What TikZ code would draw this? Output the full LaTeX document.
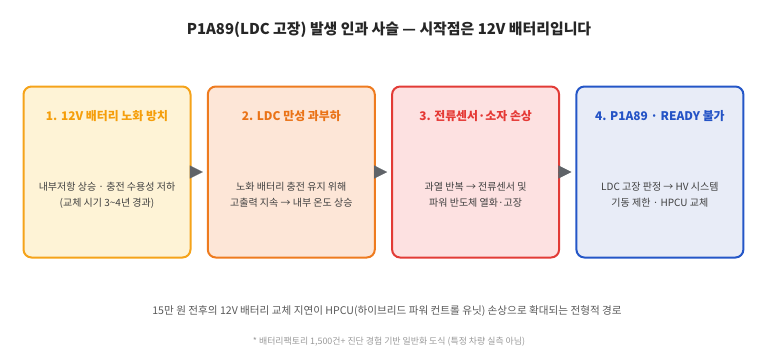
\documentclass[tikz,border=0pt]{standalone}
\usepackage{fontspec}
\setmainfont{Noto Sans CJK KR}
\usepackage{xcolor}
\usetikzlibrary{arrows.meta,positioning}
\definecolor{ambfill}{HTML}{FEF3D6}
\definecolor{ambline}{HTML}{F5A31A}
\definecolor{ambtext}{HTML}{F59E0B}
\definecolor{orgfill}{HTML}{FDE6D7}
\definecolor{orgline}{HTML}{EE7B1F}
\definecolor{orgtext}{HTML}{EA7317}
\definecolor{redfill}{HTML}{FDE1E1}
\definecolor{redline}{HTML}{E23B36}
\definecolor{redtext}{HTML}{E53935}
\definecolor{blufill}{HTML}{E8ECF7}
\definecolor{bluline}{HTML}{2456C7}
\definecolor{blutext}{HTML}{2453C6}
\definecolor{bodygray}{HTML}{404040}
\definecolor{arrgray}{HTML}{5F6368}

\begin{document}
\begin{tikzpicture}[x=1pt,y=1pt,node distance=15.3pt,
          box/.style={draw,line width=2pt,rounded corners=8pt,
                      minimum width=167pt,minimum height=171pt},
          ttl/.style={font=\fontsize{11.9}{14}\selectfont\bfseries},
          txt/.style={align=center,text=bodygray,
                      font=\fontsize{10}{16}\selectfont},
          flow/.style={arrgray,line width=0.1pt,shorten >=4pt,
                       -{Triangle[length=13pt,width=13pt]}}]
        \useasboundingbox (0,0) rectangle (773,-354);
        \node[font=\fontsize{14.9}{18}\selectfont\bfseries,text=black!85]
          (title) at (389,-30) {P1A89(LDC 고장) 발생 인과 사슬 — 시작점은 12V 배터리입니다};
        % four stages
        \node[box,draw=ambline,fill=ambfill] (a) at (107,-172) {};
        \node[box,draw=orgline,fill=orgfill,right=of a] (b) {};
        \node[box,draw=redline,fill=redfill,right=of b] (c) {};
        \node[box,draw=bluline,fill=blufill,right=of c] (d) {};
        \node[ttl,text=ambtext,below=21pt of a.north] (ta) {1. 12V 배터리 노화 방치};
        \node[ttl,text=orgtext,below=21pt of b.north] (tb) {2. LDC 만성 과부하};
        \node[ttl,text=redtext,below=21pt of c.north] (tc) {3. 전류센서·소자 손상};
        \node[ttl,text=blutext,below=21pt of d.north] (td) {4. P1A89 · READY 불가};
        \node[txt] (xa) at ([yshift=-23pt]a.center)
          {내부저항 상승 · 충전 수용성 저하\\(교체 시기 3\textasciitilde4년 경과)};
        \node[txt] (xb) at ([yshift=-23pt]b.center)
          {노화 배터리 충전 유지 위해\\고출력 지속 → 내부 온도 상승};
        \node[txt] (xc) at ([yshift=-23pt]c.center)
          {과열 반복 → 전류센서 및\\파워 반도체 열화·고장};
        \node[txt] (xd) at ([yshift=-23pt]d.center)
          {LDC 고장 판정 → HV 시스템\\기동 제한 · HPCU 교체};
        \draw[flow] (a.east)--(b.west);
        \draw[flow] (b.east)--(c.west);
        \draw[flow] (c.east)--(d.west);
        % notes
        \node[font=\fontsize{10.6}{12}\selectfont,text=black!65]
          (sub) at (387,-311) {15만 원 전후의 12V 배터리 교체 지연이 HPCU(하이브리드 파워 컨트롤 유닛) 손상으로 확대되는 전형적 경로};
        \node[font=\fontsize{8.9}{10}\selectfont,text=black!40]
          (note) at (389,-342) {* 배터리팩토리 1,500건+ 진단 경험 기반 일반화 도식 (특정 차량 실측 아님)};
      \end{tikzpicture}
\end{document}
